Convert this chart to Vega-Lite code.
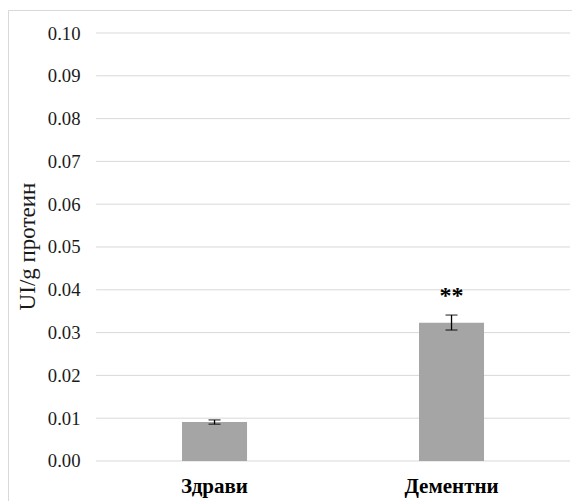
{
  "$schema": "https://vega.github.io/schema/vega-lite/v6.json",
  "width": 564,
  "height": 491,
  "autosize": "none",
  "padding": {"left": 8, "top": 10, "right": 0, "bottom": 0},
  "background": "white",
  "config": {"view": {"stroke": null}, "font": "Liberation Serif, Times New Roman, serif"},
  "datasets": {
    "bars": [
      {"group": "Здрави", "value": 0.0091, "lo": 0.0086, "hi": 0.0096, "sig": ""},
      {"group": "Дементни", "value": 0.0323, "lo": 0.0306, "hi": 0.0341, "sig": "**"}
    ],
    "grid": [
      {"v": 0.0, "from": "Здрави", "to": "Дементни"},
      {"v": 0.01, "from": "Здрави", "to": "Дементни"},
      {"v": 0.02, "from": "Здрави", "to": "Дементни"},
      {"v": 0.03, "from": "Здрави", "to": "Дементни"},
      {"v": 0.04, "from": "Здрави", "to": "Дементни"},
      {"v": 0.05, "from": "Здрави", "to": "Дементни"},
      {"v": 0.06, "from": "Здрави", "to": "Дементни"},
      {"v": 0.07, "from": "Здрави", "to": "Дементни"},
      {"v": 0.08, "from": "Здрави", "to": "Дементни"},
      {"v": 0.09, "from": "Здрави", "to": "Дементни"},
      {"v": 0.10, "from": "Здрави", "to": "Дементни"}
    ]
  },
  "resolve": {"axis": {"x": "independent", "y": "independent"}, "scale": {"x": "shared", "y": "shared"}},
  "layer": [
    {
      "data": {"name": "grid"},
      "mark": {"type": "rule", "color": "#d9d9d9", "strokeWidth": 1},
      "encoding": {
        "x": {"field": "from", "type": "nominal", "bandPosition": 0,
          "scale": {"type": "band", "domain": ["Здрави", "Дементни"], "paddingInner": 0, "paddingOuter": 0.1899, "align": 0.978},
          "axis": {"orient": "top", "domain": true, "domainColor": "#d9d9d9", "domainWidth": 1, "labels": false, "ticks": false, "grid": false, "title": null}},
        "x2": {"field": "to", "bandPosition": 1},
        "y": {"field": "v", "type": "quantitative",
          "scale": {"domain": [-0.009346, 0.105374], "nice": false, "zero": false},
          "axis": {"orient": "left", "values": [0, 0.01, 0.02, 0.03, 0.04, 0.05, 0.06, 0.07, 0.08, 0.09, 0.1], "format": ".2f",
            "domain": true, "domainColor": "#d9d9d9", "domainWidth": 1, "ticks": false, "tickSize": 0, "grid": false,
            "labelPadding": -72, "labelAlign": "right", "labelBaseline": "middle",
            "labelFont": "Liberation Serif, Times New Roman, serif", "labelFontSize": 18.7, "labelColor": "#1a1a1a",
            "title": "UI/g протеин", "titleFont": "Liberation Serif, Times New Roman, serif", "titleFontSize": 23, "titleFontWeight": "normal", "titleColor": "#1a1a1a",
            "titleAngle": 270, "titleX": 26, "titleY": 236, "titleAlign": "center", "titleBaseline": "alphabetic"}}
      }
    },
    {
      "data": {"name": "bars"},
      "mark": {"type": "bar", "color": "#a5a5a5", "width": {"band": 0.2743}},
      "encoding": {
        "x": {"field": "group", "type": "nominal", "sort": null,
          "scale": {"type": "band", "domain": ["Здрави", "Дементни"], "paddingInner": 0, "paddingOuter": 0.1899, "align": 0.978},
          "axis": {"orient": "bottom", "domain": false, "ticks": false, "tickSize": 0, "grid": false, "labelAngle": 0,
            "labelPadding": -9, "labelBaseline": "alphabetic", "labelFont": "Liberation Serif, Times New Roman, serif", "labelFontSize": 21, "labelFontWeight": "bold", "labelColor": "#000000", "title": null}},
        "y": {"field": "value", "type": "quantitative", "axis": null}
      }
    },
    {
      "data": {"name": "bars"},
      "mark": {"type": "rule", "color": "#000000", "strokeWidth": 1.3},
      "encoding": {
        "x": {"field": "group", "type": "nominal", "axis": null},
        "y": {"field": "lo", "type": "quantitative", "axis": null},
        "y2": {"field": "hi"}
      }
    },
    {
      "data": {"name": "bars"},
      "mark": {"type": "tick", "color": "#000000", "size": 12, "thickness": 1.3},
      "encoding": {
        "x": {"field": "group", "type": "nominal", "axis": null},
        "y": {"field": "lo", "type": "quantitative", "axis": null}
      }
    },
    {
      "data": {"name": "bars"},
      "mark": {"type": "tick", "color": "#000000", "size": 12, "thickness": 1.3},
      "encoding": {
        "x": {"field": "group", "type": "nominal", "axis": null},
        "y": {"field": "hi", "type": "quantitative", "axis": null}
      }
    },
    {
      "data": {"name": "bars"},
      "mark": {"type": "text", "font": "Liberation Serif, Times New Roman, serif", "fontSize": 24, "fontWeight": "bold", "color": "#000000", "baseline": "alphabetic", "align": "center", "dy": -12},
      "encoding": {
        "x": {"field": "group", "type": "nominal", "axis": null},
        "y": {"field": "hi", "type": "quantitative", "axis": null},
        "text": {"field": "sig"}
      }
    }
  ]
}
